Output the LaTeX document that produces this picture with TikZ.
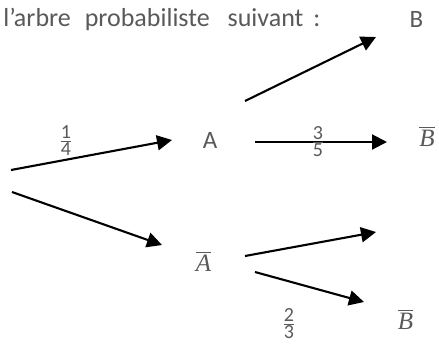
\documentclass[tikz,border=0pt]{standalone}
\usepackage{fontspec}
\setmainfont{Carlito}
\newfontfamily\serifit{Liberation Serif}
\usetikzlibrary{arrows.meta}
\definecolor{txtgrey}{RGB}{89,89,89}

\newcommand{\barred}[1]{$\overline{\hbox{\serifit\itshape #1}}$}
\newcommand{\frc}[2]{$\frac{\hbox{#1}}{\hbox{#2}}$}

\begin{document}
\begin{tikzpicture}[
  x=0.5pt, y=-0.5pt,
  font=\fontsize{12.5}{15}\selectfont, text=txtgrey,
  >={Triangle[length=7.5pt,width=7.5pt]},
  br/.style={->, line width=1.05pt, draw=black},
  ev/.style={inner sep=0pt},
  pr/.style={inner sep=0pt, font=\fontsize{10}{12}\selectfont},
]
\useasboundingbox (0,0) rectangle (439,344);

% title
\node[ev, anchor=base west, font=\fontsize{13}{15}\selectfont] (title) at (3,26)
  {l'arbre\hspace{7pt}probabiliste\hspace{9pt}suivant\hspace{5pt}:};

% events
\node[ev] (B)   at (416.5,19.5) {B};
\node[ev] (A)   at (210,140.5)  {A};
\node[ev] (nB1) at (427,136.5)  {\barred{B}};
\node[ev] (nA)  at (203.5,261.5){\barred{A}};
\node[ev] (nB2) at (405.5,319.5){\barred{B}};

% branch ends
\coordinate (r1) at (11,170);  \coordinate (tA)  at (172,140);
\coordinate (r2) at (12,192);  \coordinate (tnA) at (162,245);
\coordinate (a1) at (245,101); \coordinate (t1)  at (376,37);
\coordinate (a2) at (255,142); \coordinate (t2)  at (387,142);
\coordinate (b1) at (245,256); \coordinate (t3)  at (376,232);
\coordinate (b2) at (255,272); \coordinate (t4)  at (364,302);

% branches
\draw[br] (r1) -- (tA);
\draw[br] (r2) -- (tnA);
\draw[br] (a1) -- (t1);
\draw[br] (a2) -- (t2);
\draw[br] (b1) -- (t3);
\draw[br] (b2) -- (t4);

% probabilities
\node[pr] (p14) at (66,141)  {\frc{1}{4}};
\node[pr] (p35) at (318,142) {\frc{3}{5}};
\node[pr] (p23) at (289,324) {\frc{2}{3}};

\end{tikzpicture}
\end{document}
